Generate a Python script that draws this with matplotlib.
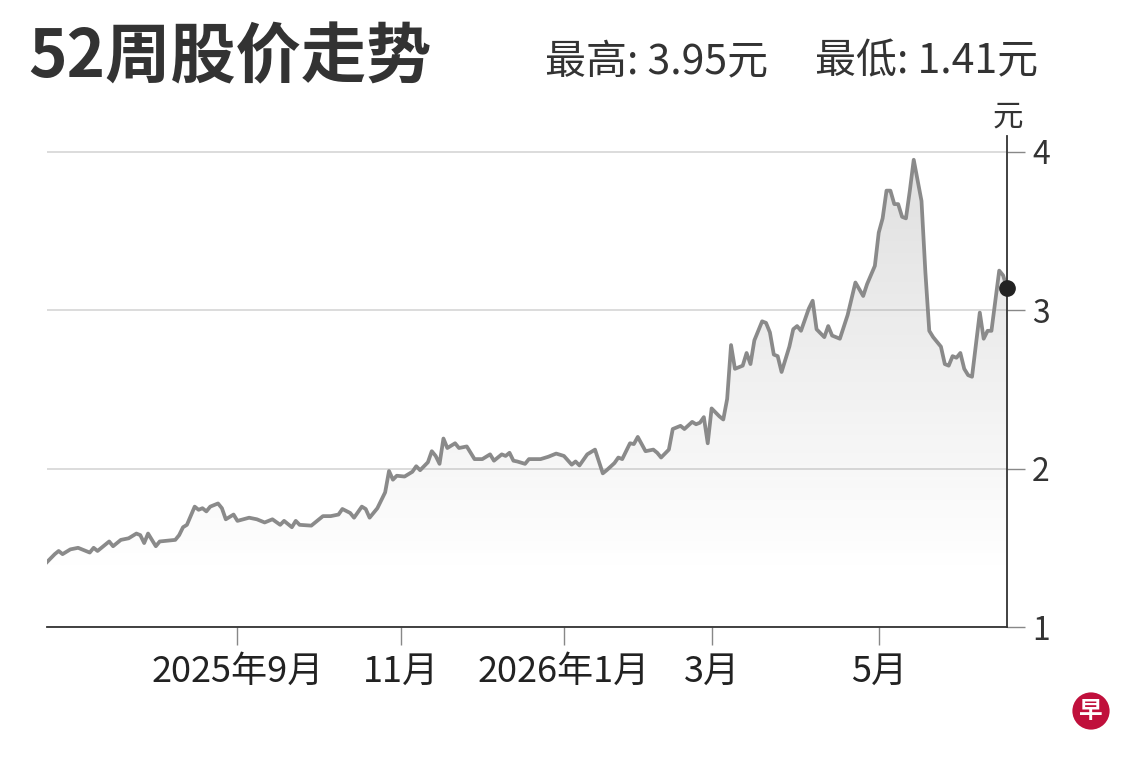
import numpy as np
import matplotlib
matplotlib.use("Agg")
import matplotlib.pyplot as plt

plt.rcParams['font.family'] = ['Noto Sans CJK SC', 'DejaVu Sans']

# ---- data (trading-day index, price in 元) ----
day = [0, 2, 3, 4, 6, 8, 9, 11, 12, 13, 14, 16, 17, 19, 21, 23, 24, 25, 26, 28,
       29, 31, 33, 34, 35, 36, 38, 39, 40, 41, 42, 44, 45, 46, 48, 49, 52, 54, 56, 58,
       60, 61, 63, 64, 65, 68, 69, 71, 73, 75, 76, 78, 79, 81, 82, 83, 84, 85, 87, 88,
       89, 90, 92, 94, 95, 96, 98, 99, 100, 101, 102, 103, 105, 106, 108, 110, 112, 114, 115, 117,
       118, 119, 120, 121, 123, 124, 127, 129, 131, 133, 135, 136, 137, 139, 141, 143, 144, 146, 147, 148,
       150, 151, 152, 154, 156, 157, 158, 160, 161, 163, 164, 166, 167, 168, 169, 170, 171, 173, 174, 175,
       176, 177, 179, 180, 181, 182, 184, 185, 186, 187, 188, 189, 191, 192, 193, 194, 196, 197, 198, 200,
       201, 202, 204, 206, 208, 210, 211, 213, 214, 215, 216, 217, 218, 219, 220, 221, 222, 223, 225, 226,
       227, 228, 230, 231, 232, 233, 234, 235, 236, 237, 238, 240, 241, 242, 243, 245, 246, 247]
price = [1.41, 1.46, 1.48, 1.46, 1.49, 1.50, 1.49, 1.47, 1.50, 1.48, 1.50, 1.54, 1.51, 1.55, 1.56, 1.59, 1.58, 1.53, 1.59, 1.51,
         1.54, 1.545, 1.55, 1.58, 1.63, 1.645, 1.76, 1.74, 1.75, 1.73, 1.76, 1.78, 1.75, 1.68, 1.71, 1.67, 1.69, 1.68, 1.66, 1.68,
         1.645, 1.67, 1.63, 1.67, 1.645, 1.64, 1.66, 1.70, 1.70, 1.71, 1.745, 1.72, 1.69, 1.76, 1.745, 1.69, 1.72, 1.75, 1.85, 1.985,
         1.93, 1.955, 1.95, 1.98, 2.015, 1.99, 2.04, 2.11, 2.08, 2.03, 2.19, 2.13, 2.16, 2.13, 2.14, 2.06, 2.06, 2.09, 2.05, 2.09,
         2.08, 2.10, 2.05, 2.045, 2.03, 2.06, 2.06, 2.075, 2.095, 2.08, 2.025, 2.045, 2.02, 2.09, 2.12, 1.97, 1.99, 2.035, 2.07, 2.06,
         2.16, 2.155, 2.20, 2.11, 2.12, 2.10, 2.07, 2.12, 2.25, 2.27, 2.25, 2.295, 2.28, 2.29, 2.325, 2.16, 2.38, 2.33, 2.31, 2.44,
         2.78, 2.63, 2.65, 2.73, 2.66, 2.81, 2.93, 2.92, 2.86, 2.72, 2.71, 2.61, 2.77, 2.88, 2.90, 2.87, 3.01, 3.06, 2.88, 2.83,
         2.90, 2.84, 2.82, 2.97, 3.175, 3.09, 3.165, 3.28, 3.49, 3.58, 3.755, 3.755, 3.67, 3.67, 3.59, 3.58, 3.755, 3.95, 3.69, 3.24,
         2.87, 2.83, 2.77, 2.66, 2.65, 2.71, 2.70, 2.73, 2.63, 2.59, 2.58, 2.985, 2.82, 2.87, 2.87, 3.25, 3.22, 3.14]

tick_days = [49, 91, 133, 171, 214]
tick_labels = ['2025年9月', '11月', '2026年1月', '3月', '5月']
y_ticks = [1, 2, 3, 4]

title = '52周股价走势'
high_text = '最高: 3.95元'
low_text = '最低: 1.41元'

# ---- figure ----
fig = plt.figure(figsize=(11.4, 7.6), dpi=100)
fig.patch.set_facecolor('white')
ax = fig.add_axes([47/1140, 133/760, 960/1140, 491/760])

x = np.array(day, dtype=float)
y = np.array(price)
ymin, ymax = 1.0, 4.10

# gradient fill under the line
poly = ax.fill_between(x, y, ymin, facecolor='none', edgecolor='none')
yy = np.linspace(ymin, ymax, 300)
alpha = np.clip(0.105 * (yy - 1.35), 0, 1)
grad = np.zeros((300, 1, 4))
grad[..., 0:3] = 0.55
grad[:, 0, 3] = alpha
img = ax.imshow(grad, extent=[x[0], x[-1], ymin, ymax], origin='lower',
                aspect='auto', zorder=1, interpolation='bilinear')
img.set_clip_path(poly.get_paths()[0], transform=ax.transData)

ax.plot(x, y, color='#8a8a8a', lw=2.7, solid_joinstyle='round', zorder=3)
ax.plot(x[-1], y[-1], 'o', color='#222222', ms=11, clip_on=False, zorder=6)

ax.set_xlim(x[0], x[-1])
ax.set_ylim(ymin, ymax)

for s in ['left', 'top']:
    ax.spines[s].set_visible(False)
for s in ['right', 'bottom']:
    ax.spines[s].set_color('#333333')
    ax.spines[s].set_linewidth(1.3)
    ax.spines[s].set_zorder(5)

ax.yaxis.tick_right()
ax.set_yticks(y_ticks)
ax.set_yticklabels([str(t) for t in y_ticks])
ax.set_xticks(tick_days)
ax.set_xticklabels(tick_labels)
ax.tick_params(axis='y', length=13, width=1, color='#888888', labelsize=23,
               labelcolor='#333333', pad=5)
ax.tick_params(axis='x', length=13, width=1, color='#888888', labelsize=26,
               labelcolor='#222222', pad=6)
ax.grid(axis='y', color='#d6d6d6', lw=1.2, zorder=0)
ax.set_axisbelow(True)

# texts
fig.text(28/1140, 1 - 58/760, title, fontsize=47, fontweight='bold',
         color='#333333', ha='left', va='center')
fig.text(545/1140, 1 - 62/760, high_text, fontsize=29.5, color='#333333',
         ha='left', va='center')
fig.text(815/1140, 1 - 62/760, low_text, fontsize=29.5, color='#333333',
         ha='left', va='center')
fig.text(1008/1140, 1 - 117/760, '元', fontsize=22, color='#333333',
         ha='center', va='center')

# logo
fig.text(1091/1140, 1 - 711/760, '早', fontsize=17, fontweight='bold', color='white',
         ha='center', va='center',
         bbox=dict(boxstyle='circle,pad=0.28', fc='#c0103c', ec='none'))

fig.savefig('out.png', dpi=100, facecolor='white')
